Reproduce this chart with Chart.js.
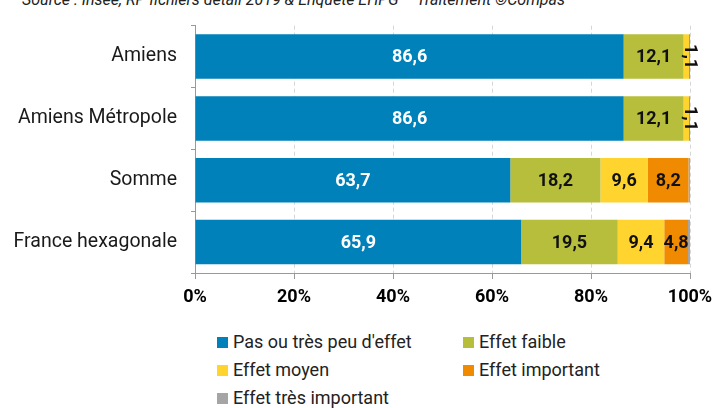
<!DOCTYPE html>
<html>
<head>
<meta charset="utf-8">
<script src="https://cdn.jsdelivr.net/npm/chart.js@4/dist/chart.umd.min.js"></script>
<style>
body { margin: 0; background: #fff; font-family: Roboto, sans-serif; }
#wrap { position: relative; width: 717px; height: 408px; overflow: hidden; }
#source { position: absolute; left: 22px; top: -10px; font-size: 16px; font-style: italic; color: #222; white-space: nowrap; }
#chart { position: absolute; left: 0; top: 0; }
.leg { position: absolute; font-size: 18px; color: #222; white-space: nowrap; line-height: 20px; }
.leg span { display: inline-block; width: 11px; height: 11px; margin-right: 5px; vertical-align: 0px; }
</style>
</head>
<body>
<div id="wrap">
  <div id="source">Source : Insee, RP fichiers détail 2019 &amp; Enquête EHPG – Traitement ©Compas</div>
  <canvas id="chart" width="717" height="320"></canvas>
  <div id="legend"></div>
</div>
<script>
const categories = ['Amiens', 'Amiens Métropole', 'Somme', 'France hexagonale'];
const seriesNames = ['Pas ou très peu d\'effet', 'Effet faible', 'Effet moyen', 'Effet important', 'Effet très important'];
const pasEffet = [86.6, 86.6, 63.7, 65.9];
const faible = [12.1, 12.1, 18.2, 19.5];
const moyen = [1.1, 1.1, 9.6, 9.4];
const important = [0.2, 0.2, 8.2, 4.8];
const tresImportant = [0, 0, 0.3, 0.4];
const xTicks = [0, 20, 40, 60, 80, 100];
const colors = ['#0081B9', '#B6BE3B', '#FFD42F', '#F08A00', '#A5A5A5'];

const allSeries = [pasEffet, faible, moyen, important, tresImportant];

// labels drawn inside the bar segments
const valueLabels = {
  id: 'valueLabels',
  afterDatasetsDraw(chart) {
    const c = chart.ctx;
    c.save();
    c.font = 'bold 18px Roboto';
    c.textAlign = 'center';
    c.textBaseline = 'middle';
    chart.data.datasets.forEach((ds, di) => {
      chart.getDatasetMeta(di).data.forEach((bar, i) => {
        const v = ds.data[i];
        if (v < 1) return;
        const txt = v.toFixed(1).replace('.', ',');
        const x = (bar.x + bar.base) / 2;
        c.fillStyle = di === 0 ? '#fff' : '#111';
        const w = Math.abs(bar.x - bar.base);
        if (c.measureText(txt).width > w + 6) {
          c.save();
          c.translate(x + 3, bar.y);
          c.rotate(Math.PI / 2);
          c.fillText(txt, 0, 0);
          c.restore();
        } else {
          c.fillText(txt, x, bar.y + 1);
        }
      });
    });
    c.restore();
  }
};

const chart = new Chart(document.getElementById('chart'), {
  type: 'bar',
  data: {
    labels: categories,
    datasets: allSeries.map((d, i) => ({
      label: seriesNames[i],
      data: d,
      backgroundColor: colors[i],
      borderWidth: 0,
      categoryPercentage: 0.72,
      barPercentage: 1
    }))
  },
  options: {
    indexAxis: 'y',
    responsive: false,
    animation: false,
    layout: { padding: { top: 17, right: 27, left: 0, bottom: 0 } },
    plugins: { legend: { display: false }, tooltip: { enabled: false } },
    scales: {
      x: {
        stacked: true,
        min: 0,
        max: 100,
        afterBuildTicks: s => { s.ticks = xTicks.map(v => ({ value: v })); },
        afterFit: s => { s.height = 47; s.paddingLeft = 0; s.paddingRight = 0; },
        border: { display: true, color: '#999', dash: [4, 3] },
        grid: { color: '#d6d6d6', tickLength: 6, tickColor: '#999', tickBorderDash: [] },
        ticks: {
          color: '#000',
          font: { family: 'Roboto', size: 18, weight: 'bold' },
          padding: 8,
          callback: v => v + '%'
        }
      },
      y: {
        stacked: true,
        afterFit: s => { s.width = 195; },
        border: { display: true, color: '#999' },
        grid: { offset: true, drawOnChartArea: false, tickLength: 4, tickColor: '#999' },
        ticks: {
          color: '#1a1a1a',
          font: { family: 'Roboto', size: 19.5 },
          padding: 14
        }
      }
    }
  },
  plugins: [valueLabels]
});

// two-column legend
const legend = document.getElementById('legend');
const pos = [[217, 332], [463, 332], [217, 360], [463, 360], [217, 388]];
seriesNames.forEach((n, i) => {
  const el = document.createElement('div');
  el.className = 'leg';
  el.style.left = pos[i][0] + 'px';
  el.style.top = pos[i][1] + 'px';
  el.innerHTML = '<span style="background:' + colors[i] + '"></span>' + n;
  legend.appendChild(el);
});
</script>
</body>
</html>
